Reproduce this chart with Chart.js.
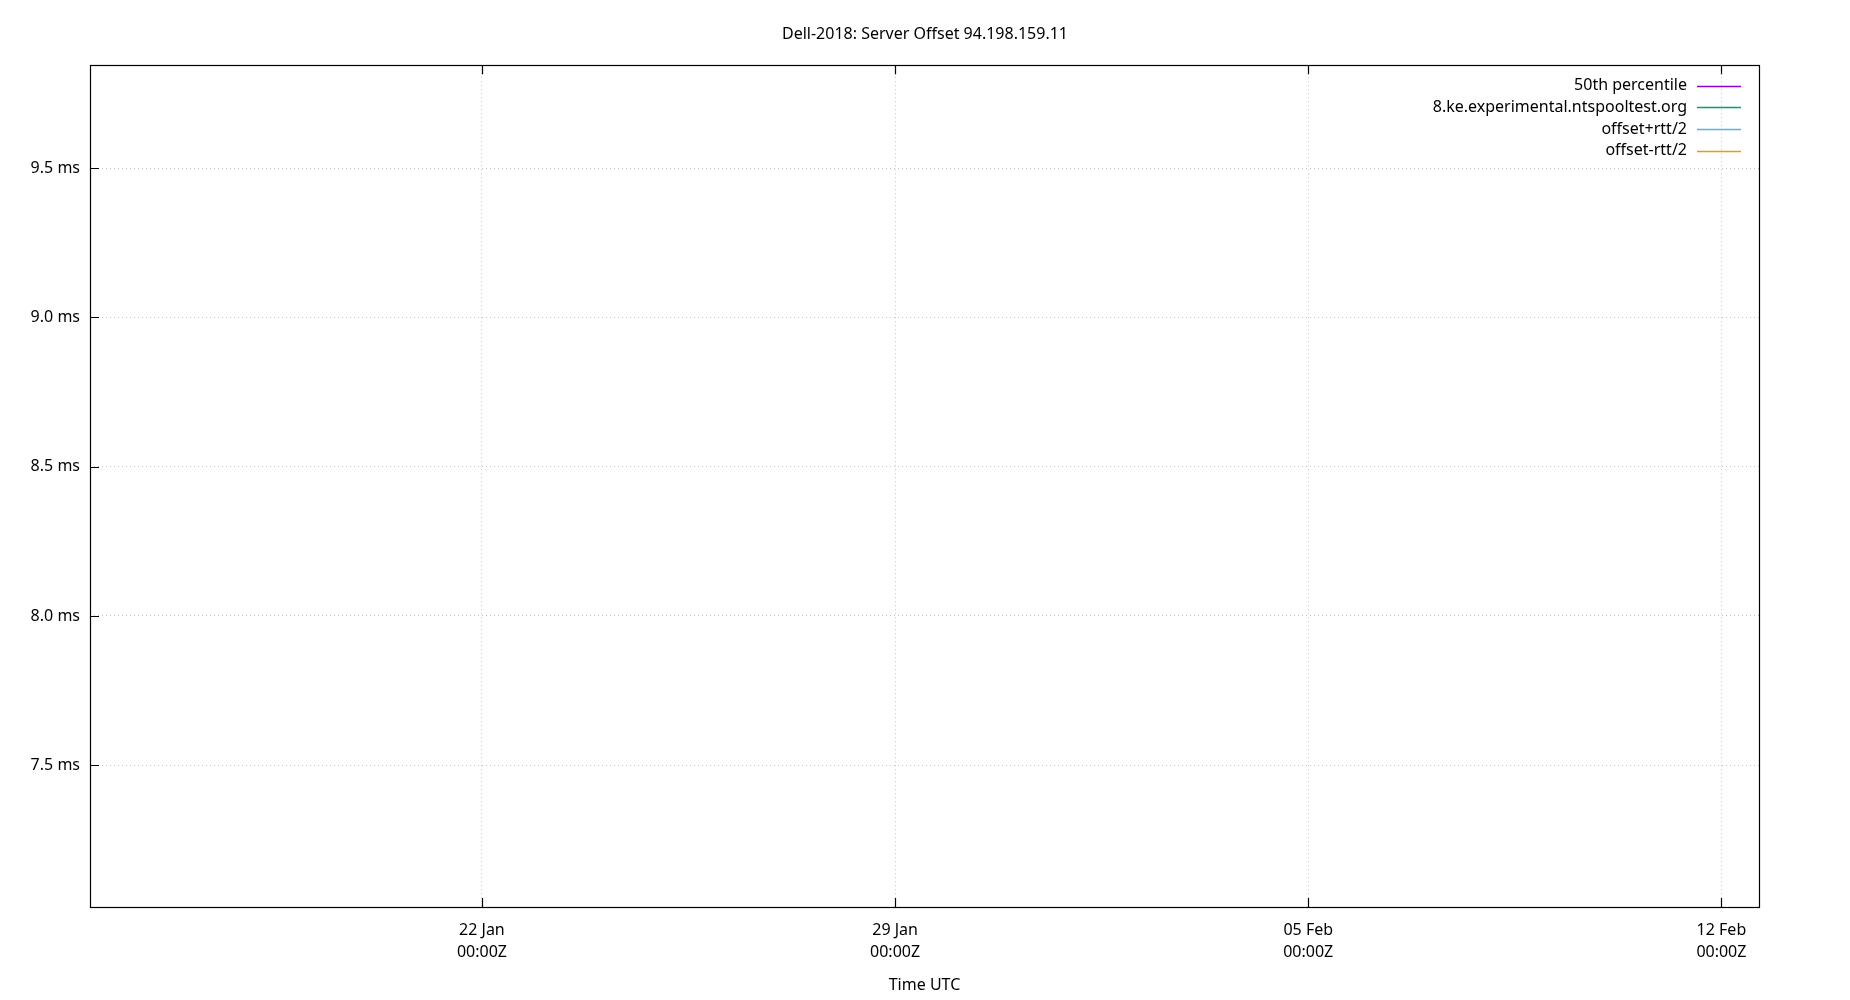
<!DOCTYPE html>
<html>
<head>
<meta charset="utf-8">
<title>Dell-2018: Server Offset 94.198.159.11</title>
<script src="https://cdn.jsdelivr.net/npm/chart.js@4/dist/chart.umd.min.js"></script>
<style>
  html, body { margin: 0; padding: 0; background: #fff; }
  #wrap { width: 1850px; height: 1000px; }
</style>
</head>
<body>
<div id="wrap"><canvas id="offsetChart" width="1850" height="1000"></canvas></div>
<script>
const ctx = document.getElementById('offsetChart');

// x values are days since 1 Jan 00:00Z (day 21 = 22 Jan)
// the plotted window has no samples in it, so every series is empty
const medianTimes = [];
const medianOffsets = [];
const serverTimes = [];
const serverOffsets = [];
const upperTimes = [];
const upperOffsets = [];   // offset + rtt/2
const lowerTimes = [];
const lowerOffsets = [];   // offset - rtt/2

const seriesNames = ['50th percentile', '8.ke.experimental.ntspooltest.org', 'offset+rtt/2', 'offset-rtt/2'];
const seriesColors = ['rgb(148, 0, 211)', 'rgb(0, 158, 115)', 'rgb(86, 180, 233)', 'rgb(230, 159, 0)'];

// tick labels
const xTickDays = [21, 28, 35, 42];
const xTickLabels = ['22 Jan', '29 Jan', '05 Feb', '12 Feb'];
const yTickValues = [7.5, 8.0, 8.5, 9.0, 9.5];

const FONT = '"Noto Sans", "Open Sans", sans-serif';

const toPoints = (xs, ys) => xs.map((x, i) => ({ x: x, y: ys[i] }));

// gnuplot style frame: box round the plot, inward ticks left / bottom / top
const framePlugin = {
  id: 'frame',
  afterDraw(chart) {
    const c = chart.ctx;
    const a = chart.chartArea;
    const xs = chart.scales.x;
    const ys = chart.scales.y;
    const tick = 9;
    c.save();
    c.strokeStyle = '#000';
    c.lineWidth = 1.2;
    c.strokeRect(Math.round(a.left) + 0.5, Math.round(a.top) + 0.5,
      Math.round(a.right - a.left), Math.round(a.bottom - a.top));
    c.beginPath();
    xTickDays.forEach(d => {
      const px = Math.round(xs.getPixelForValue(d)) + 0.5;
      c.moveTo(px, a.bottom); c.lineTo(px, a.bottom - tick);
      c.moveTo(px, a.top); c.lineTo(px, a.top + tick);
    });
    yTickValues.forEach(v => {
      const py = Math.round(ys.getPixelForValue(v)) + 0.5;
      c.moveTo(a.left, py); c.lineTo(a.left + tick, py);
    });
    c.stroke();

    // key, top right inside the plot
    c.font = '16px ' + FONT;
    c.textAlign = 'right';
    c.textBaseline = 'middle';
    chart.data.datasets.forEach((ds, i) => {
      const y = a.top + 20.5 + i * 21.7;
      c.fillStyle = '#000';
      c.fillText(ds.label, a.right - 72, y);
      c.strokeStyle = ds.borderColor;
      c.lineWidth = 1.4;
      c.beginPath();
      c.moveTo(a.right - 62, Math.round(y) + 0.5);
      c.lineTo(a.right - 18, Math.round(y) + 0.5);
      c.stroke();
    });
    c.restore();
  }
};

new Chart(ctx, {
  type: 'line',
  data: {
    datasets: [
      { label: seriesNames[0], data: toPoints(medianTimes, medianOffsets), borderColor: seriesColors[0], borderWidth: 1, pointRadius: 0 },
      { label: seriesNames[1], data: toPoints(serverTimes, serverOffsets), borderColor: seriesColors[1], borderWidth: 1, pointRadius: 0 },
      { label: seriesNames[2], data: toPoints(upperTimes, upperOffsets), borderColor: seriesColors[2], borderWidth: 1, pointRadius: 0 },
      { label: seriesNames[3], data: toPoints(lowerTimes, lowerOffsets), borderColor: seriesColors[3], borderWidth: 1, pointRadius: 0 }
    ]
  },
  options: {
    responsive: false,
    animation: false,
    devicePixelRatio: 1,
    layout: { padding: 0 },
    plugins: {
      legend: { display: false },
      tooltip: { enabled: false },
      title: {
        display: true,
        text: 'Dell-2018: Server Offset 94.198.159.11',
        color: '#000',
        font: { family: FONT, size: 16, weight: 'normal', lineHeight: 1.2 },
        padding: { top: 25, bottom: 21 }
      }
    },
    scales: {
      x: {
        type: 'linear',
        position: 'bottom',
        min: 14.36,
        max: 42.637,
        afterBuildTicks: s => { s.ticks = xTickDays.map(v => ({ value: v })); },
        afterFit: s => { s.height = 93; },
        grid: { color: '#c4c4c4', lineWidth: 1, drawTicks: false },
        border: { display: false, dash: [1, 3] },
        ticks: {
          autoSkip: false,
          maxRotation: 0,
          padding: 13,
          color: '#000',
          font: { family: FONT, size: 16, lineHeight: 1.35 },
          callback: v => {
            const i = xTickDays.indexOf(v);
            return i < 0 ? '' : [xTickLabels[i], '00:00Z'];
          }
        },
        title: {
          display: true,
          text: 'Time UTC',
          color: '#000',
          font: { family: FONT, size: 16, lineHeight: 1.2 },
          padding: { top: 0, bottom: 5 }
        }
      },
      y: {
        type: 'linear',
        position: 'left',
        min: 7.025,
        max: 9.845,
        afterBuildTicks: s => { s.ticks = yTickValues.map(v => ({ value: v })); },
        afterFit: s => { s.width = 90; },
        grid: { color: '#c4c4c4', lineWidth: 1, drawTicks: false },
        border: { display: false, dash: [1, 3] },
        ticks: {
          padding: 10,
          color: '#000',
          font: { family: FONT, size: 16 },
          callback: v => v.toFixed(1) + ' ms'
        }
      },
      // empty right margin, keeps the title centred on the page
      yRight: {
        type: 'linear',
        position: 'right',
        min: 7.025,
        max: 9.845,
        afterFit: s => { s.width = 91; },
        grid: { display: false, drawOnChartArea: false },
        border: { display: false },
        ticks: { display: false }
      }
    }
  },
  plugins: [framePlugin]
});
</script>
</body>
</html>
